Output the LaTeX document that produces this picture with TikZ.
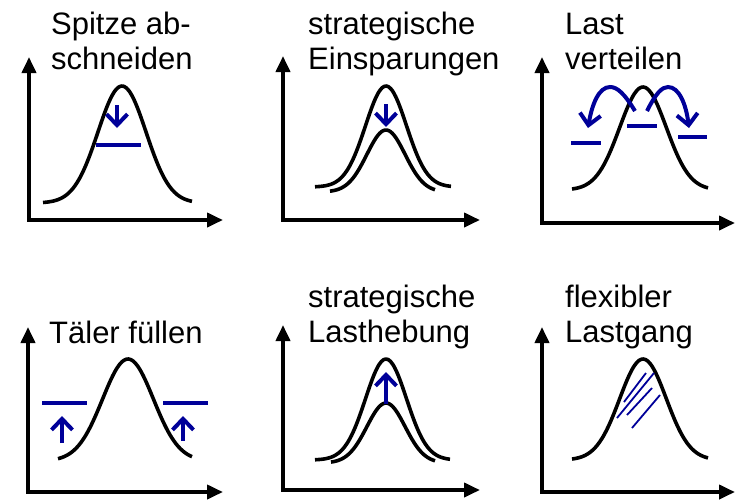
\documentclass[tikz,border=0pt]{standalone}
\usepackage{fontspec}
\setmainfont{Liberation Sans}
\usetikzlibrary{arrows.meta}
\definecolor{navy}{RGB}{0,0,153}
\tikzset{
  axis/.style={line width=3.8pt, {Triangle[length=16pt,width=14pt]}-{Triangle[length=16pt,width=14pt]}},
  curve/.style={line width=3.6pt, line join=round},
  level/.style={navy, line width=4pt},
  barrow/.style={navy, line width=4pt, -{Straight Barb[length=11pt,width=21pt,line width=4pt]}},
  hatch/.style={navy, line width=1.8pt},
  lbl/.style={anchor=base west, inner sep=0pt, font=\fontsize{31}{35}\selectfont}
}
\begin{document}
\begin{tikzpicture}[x=1pt,y=-1pt]
\useasboundingbox (0,0) rectangle (736,501);
% ---------- panel 1: Spitze abschneiden
\node[lbl] (t1a) at (51,34) {Spitze ab-};
\node[lbl] (t1b) at (51,69) {schneiden};
\draw[axis] (29,57) |- (223,220);
\draw[curve] plot[domain=43:192, samples=60, smooth] (\x, {203 - 117*exp(-((\x-122)/34)^2)});
\draw[level] (96,145) -- (141,145);
\draw[barrow] (117,105) -- (117,128);
% ---------- panel 2: strategische Einsparungen
\node[lbl] (t2a) at (308,34) {strategische};
\node[lbl] (t2b) at (308,69) {Einsparungen};
\draw[axis] (283,56) |- (480,220);
\draw[curve] plot[domain=315:451, samples=60, smooth] (\x, {187 - 101*exp(-((\x-386)/29)^2)});
\draw[curve] plot[domain=330:435, samples=60, smooth] (\x, {192 - 62*exp(-((\x-386)/27)^2)});
\draw[barrow] (386,104) -- (386,127);
% ---------- panel 3: Last verteilen
\node[lbl] (t3a) at (565,34) {Last};
\node[lbl] (t3b) at (565,69) {verteilen};
\draw[axis] (542,57) |- (735,223);
\draw[curve] plot[domain=572:708, samples=60, smooth] (\x, {190 - 103*exp(-((\x-643)/33)^2)});
\draw[level] (571,143) -- (601,143);
\draw[level] (627,126) -- (657,126);
\draw[level] (678,137) -- (707,137);
\draw[barrow]
  (635,111) .. controls (624,93) and (617,87) .. (610,87) .. controls (599,87) and (592,104) .. (588,128);
\draw[barrow]
  (647,111) .. controls (656,93) and (662,87) .. (668,87) .. controls (679,87) and (686,104) .. (689,128);
% ---------- panel 4: Täler füllen
\node[lbl] (t4a) at (49,343) {Täler füllen};
\draw[axis] (28,327) |- (223,492);
\draw[curve] plot[domain=58:192, samples=60, smooth] (\x, {461 - 102*exp(-((\x-128)/36)^2)});
\draw[level] (42,403) -- (87,403);
\draw[level] (163,403) -- (208,403);
\draw[barrow] (62,443) -- (62,416);
\draw[barrow] (183,441) -- (183,416);
% ---------- panel 5: strategische Lasthebung
\node[lbl] (t5a) at (308,307) {strategische};
\node[lbl] (t5b) at (308,342) {Lasthebung};
\draw[axis] (283,325) |- (480,490);
\draw[curve] plot[domain=315:450, samples=60, smooth] (\x, {460 - 101*exp(-((\x-386)/29)^2)});
\draw[curve] plot[domain=331:435, samples=60, smooth] (\x, {463 - 60*exp(-((\x-386)/27)^2)});
\draw[barrow] (386,404) -- (386,372);
% ---------- panel 6: flexibler Lastgang
\node[lbl] (t6a) at (565,307) {flexibler};
\node[lbl] (t6b) at (565,342) {Lastgang};
\draw[axis] (542,327) |- (735,492);
\draw[curve] plot[domain=572:708, samples=60, smooth] (\x, {460 - 101*exp(-((\x-643)/33)^2)});
\draw[hatch] (624,402) -- (646,373);
\draw[hatch] (617,418) -- (654,373);
\draw[hatch] (627,415) -- (652,388);
\draw[hatch] (632,428) -- (660,395);
\end{tikzpicture}
\end{document}
